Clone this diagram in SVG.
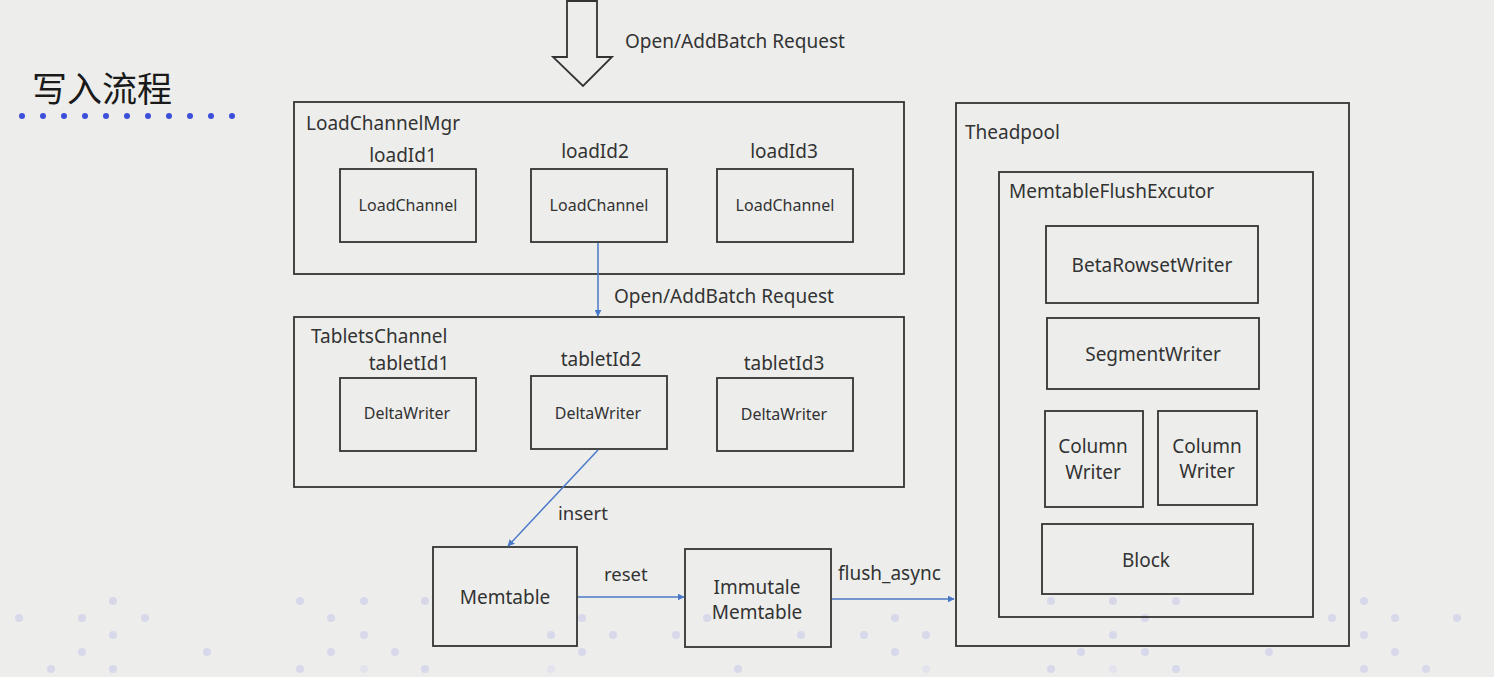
<svg xmlns="http://www.w3.org/2000/svg" width="1494" height="677" viewBox="0 0 1494 677">
<defs>
<style>
.bg{fill:#edeeec}
.d{fill:#d8d8eb}
.df{fill:#e3e3ed}
.bd{fill:#3b4fd8}
.box{fill:none;stroke:#333;stroke-width:1.8}
.t{font-family:"Noto Sans","Noto Sans CJK SC",sans-serif;fill:#333}
.s16{font-size:16px}
.s18{font-size:18.5px}
.s19{font-size:19px}
.c{text-anchor:middle}
.con{fill:none;stroke:#4a78c8;stroke-width:1.5}
</style>
<marker id="ah" viewBox="0 0 10 10" refX="9" refY="5" markerWidth="7" markerHeight="7" markerUnits="userSpaceOnUse" orient="auto">
<path d="M0,0 L10,5 L0,10 z" fill="#4a78c8"/>
</marker>
</defs>
<rect class="bg" x="0" y="0" width="1494" height="677"/>
<g id="bgdots">
<circle class="d" cx="113" cy="601" r="4"/><circle class="d" cx="300" cy="601" r="4"/><circle class="d" cx="364" cy="601" r="4"/><circle class="d" cx="425" cy="601" r="4"/><circle class="d" cx="1051" cy="601" r="4"/><circle class="d" cx="1113" cy="601" r="4"/><circle class="d" cx="1176" cy="601" r="4"/><circle class="d" cx="1364" cy="601" r="4"/>
<circle class="d" cx="19" cy="618" r="4"/><circle class="d" cx="82" cy="618" r="4"/><circle class="d" cx="145" cy="618" r="4"/><circle class="d" cx="331" cy="618" r="4"/><circle class="d" cx="582" cy="618" r="4"/><circle class="d" cx="707" cy="618" r="4"/><circle class="d" cx="895" cy="618" r="4"/><circle class="d" cx="1145" cy="618" r="4"/><circle class="d" cx="1332" cy="618" r="4"/><circle class="d" cx="1395" cy="618" r="4"/><circle class="d" cx="1457" cy="618" r="4"/>
<circle class="d" cx="113" cy="635" r="4"/><circle class="d" cx="364" cy="635" r="4"/><circle class="d" cx="551" cy="635" r="4"/><circle class="d" cx="613" cy="635" r="4"/><circle class="d" cx="676" cy="635" r="4"/><circle class="d" cx="801" cy="635" r="4"/><circle class="d" cx="864" cy="635" r="4"/><circle class="d" cx="926" cy="635" r="4"/><circle class="d" cx="1113" cy="635" r="4"/><circle class="d" cx="1364" cy="635" r="4"/>
<circle class="d" cx="82" cy="652" r="4"/><circle class="d" cx="207" cy="652" r="4"/><circle class="d" cx="331" cy="652" r="4"/><circle class="d" cx="395" cy="652" r="4"/><circle class="d" cx="582" cy="652" r="4"/><circle class="d" cx="895" cy="652" r="4"/><circle class="d" cx="1081" cy="652" r="4"/><circle class="d" cx="1145" cy="652" r="4"/><circle class="d" cx="1269" cy="652" r="4"/><circle class="d" cx="1395" cy="652" r="4"/>
<circle class="d" cx="51" cy="669" r="4"/><circle class="d" cx="113" cy="669" r="4"/><circle class="d" cx="300" cy="669" r="4"/><circle class="df" cx="364" cy="669" r="4"/><circle class="d" cx="425" cy="669" r="4"/><circle class="df" cx="551" cy="669" r="4"/><circle class="d" cx="738" cy="669" r="4"/><circle class="df" cx="926" cy="669" r="4"/><circle class="d" cx="1051" cy="669" r="4"/><circle class="df" cx="1113" cy="669" r="4"/><circle class="d" cx="1176" cy="669" r="4"/><circle class="d" cx="1364" cy="669" r="4"/><circle class="d" cx="1426" cy="669" r="4"/>
</g>
<g id="title">
<text class="t" x="32" y="102" style="font-size:35px;fill:#1a1a1a">写入流程</text>
<g class="bd">
<circle cx="22" cy="116" r="3"/><circle cx="43" cy="116" r="3"/><circle cx="64" cy="116" r="3"/><circle cx="85" cy="116" r="3"/><circle cx="106" cy="116" r="3"/><circle cx="127" cy="116" r="3"/><circle cx="148" cy="116" r="3"/><circle cx="169" cy="116" r="3"/><circle cx="190" cy="116" r="3"/><circle cx="211" cy="116" r="3"/><circle cx="232" cy="116" r="3"/>
</g>
</g>
<g id="input">
<path d="M567,1 L597,1 L597,57 L612,57 L583,86 L553,57 L567,57 Z" fill="none" stroke="#333" stroke-width="1.8"/>
<text class="t s19" x="625" y="48">Open/AddBatch Request</text>
</g>
<g id="loadChannelMgr">
<rect class="box" x="294" y="102" width="610" height="172"/>
<text class="t s19" x="306" y="130">LoadChannelMgr</text>
<text class="t s19 c" x="403" y="162">loadId1</text>
<text class="t s19 c" x="595" y="158">loadId2</text>
<text class="t s19 c" x="784" y="158">loadId3</text>
</g>
<g id="loadChannel1"><rect class="box" x="340" y="169" width="136" height="73"/><text class="t s16 c" x="408" y="211">LoadChannel</text></g>
<g id="loadChannel2"><rect class="box" x="531" y="169" width="136" height="73"/><text class="t s16 c" x="599" y="211">LoadChannel</text></g>
<g id="loadChannel3"><rect class="box" x="717" y="169" width="136" height="73"/><text class="t s16 c" x="785" y="211">LoadChannel</text></g>
<g id="tabletsChannel">
<rect class="box" x="294" y="317" width="610" height="170"/>
<text class="t s19" x="311" y="343">TabletsChannel</text>
<text class="t s19 c" x="409" y="370">tabletId1</text>
<text class="t s19 c" x="601" y="366">tabletId2</text>
<text class="t s19 c" x="784" y="370">tabletId3</text>
</g>
<g id="deltaWriter1"><rect class="box" x="340" y="378" width="136" height="73"/><text class="t s16 c" x="407" y="419">DeltaWriter</text></g>
<g id="deltaWriter2"><rect class="box" x="531" y="376" width="136" height="73"/><text class="t s16 c" x="598" y="419">DeltaWriter</text></g>
<g id="deltaWriter3"><rect class="box" x="717" y="378" width="136" height="73"/><text class="t s16 c" x="784" y="420">DeltaWriter</text></g>
<g id="memtable"><rect class="box" x="433" y="547" width="144" height="99"/><text class="t s19 c" x="505" y="604">Memtable</text></g>
<g id="immutableMemtable"><rect class="box" x="685" y="549" width="146" height="98"/><text class="t s19 c" x="757" y="594">Immutale</text><text class="t s19 c" x="757" y="619">Memtable</text></g>
<g id="threadpool">
<rect class="box" x="956" y="103" width="393" height="543"/>
<text class="t s19" x="965" y="139">Theadpool</text>
</g>
<g id="memtableFlushExecutor">
<rect class="box" x="999" y="172" width="314" height="445"/>
<text class="t s19" x="1009" y="198">MemtableFlushExcutor</text>
</g>
<g id="betaRowsetWriter"><rect class="box" x="1046" y="226" width="212" height="77"/><text class="t s19 c" x="1152" y="272">BetaRowsetWriter</text></g>
<g id="segmentWriter"><rect class="box" x="1047" y="318" width="212" height="71"/><text class="t s19 c" x="1153" y="361">SegmentWriter</text></g>
<g id="columnWriter1"><rect class="box" x="1045" y="411" width="98" height="96"/><text class="t s19 c" x="1093" y="453">Column</text><text class="t s19 c" x="1093" y="479">Writer</text></g>
<g id="columnWriter2"><rect class="box" x="1158" y="411" width="99" height="94"/><text class="t s19 c" x="1207" y="453">Column</text><text class="t s19 c" x="1207" y="478">Writer</text></g>
<g id="block"><rect class="box" x="1042" y="524" width="211" height="70"/><text class="t s19 c" x="1146" y="567">Block</text></g>
<g id="connectors">
<path class="con" d="M598,243 L598,316" marker-end="url(#ah)"/>
<text class="t s19" x="614" y="303">Open/AddBatch Request</text>
<path class="con" d="M598,450 L508,546" marker-end="url(#ah)"/>
<text class="t s18" x="558" y="520">insert</text>
<path class="con" d="M578,597 L684,597" marker-end="url(#ah)"/>
<text class="t s18" x="604" y="581">reset</text>
<path class="con" d="M832,599 L954,599" marker-end="url(#ah)"/>
<text class="t s19" x="838" y="580">flush_async</text>
</g>
</svg>
